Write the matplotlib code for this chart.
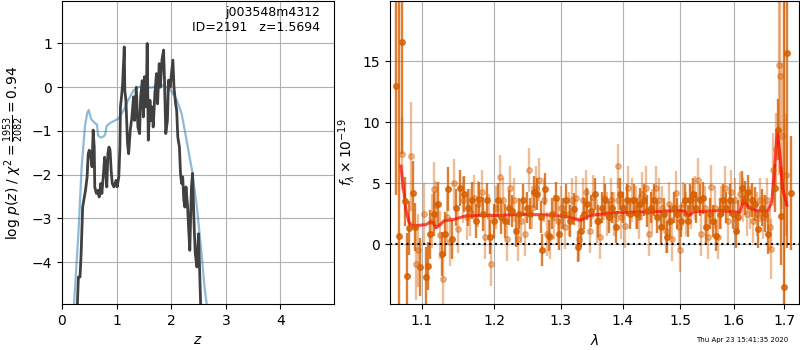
import matplotlib
matplotlib.use('Agg')
import numpy as np
import matplotlib.pyplot as plt
from matplotlib.ticker import NullLocator

# p(z) curve (dark)
z_pz = [0.28, 0.30, 0.33, 0.35, 0.378, 0.40, 0.43, 0.46, 0.48, 0.50, 0.52, 0.55, 0.57, 0.59,
        0.60, 0.63, 0.66, 0.68, 0.71, 0.73, 0.76, 0.78, 0.80, 0.82, 0.84, 0.86, 0.88, 0.90,
        0.92, 0.95, 0.99, 1.01, 1.04, 1.06, 1.07, 1.09, 1.11, 1.14, 1.15, 1.17, 1.20, 1.22,
        1.25, 1.28, 1.31, 1.33, 1.36, 1.39, 1.42, 1.44, 1.47, 1.49, 1.51, 1.54, 1.56, 1.58,
        1.61, 1.63, 1.65, 1.67, 1.70, 1.73, 1.75, 1.78, 1.80, 1.83, 1.86, 1.88, 1.90, 1.93,
        1.95, 1.98, 2.03, 2.05, 2.08, 2.10, 2.12, 2.15, 2.17, 2.19, 2.21, 2.23, 2.25, 2.27,
        2.30, 2.32, 2.34, 2.37, 2.39, 2.42, 2.44, 2.47, 2.50, 2.52, 2.54]
logp = [-5.03, -4.34, -4.34, -3.81, -2.74, -2.58, -2.36, -2.05, -1.52, -1.44, -1.52, -1.82,
        -0.98, -1.37, -2.28, -2.43, -2.36, -2.51, -2.2, -2.43, -1.97, -1.6, -1.9, -2.28,
        -1.52, -1.37, -1.44, -1.9, -2.2, -2.28, -2.13, -2.28, -2.05, -1.37, -0.45, -0.22,
        0.08, 0.92, -0.07, -0.3, -1.29, -1.52, -0.98, -0.68, -0.22, -0.76, 0.0, -0.91,
        -1.06, -0.22, 0.15, -0.68, 0.24, -0.45, 1.0, -1.21, -0.3, -0.76, -0.45, -0.91,
        -0.15, 0.31, -0.38, 0.54, 0.0, 0.62, 0.85, 0.0, -1.06, -0.76, 0.16, 0.0, 0.62,
        0.0, -0.38, -0.53, -1.14, -1.37, -1.98, -2.2, -2.05, -2.58, -2.74, -2.28, -2.74,
        -3.27, -3.73, -2.28, -1.97, -3.2, -3.8, -4.11, -3.35, -4.19, -5.03]

# smooth curve (blue)
z_sm = [0.22, 0.30, 0.36, 0.42, 0.46, 0.49, 0.53, 0.60, 0.64, 0.66, 0.70, 0.76, 0.79,
        0.82, 0.88, 0.94, 1.03, 1.12, 1.21, 1.31, 1.40, 1.49, 1.55, 1.64, 1.73, 1.83,
        1.92, 2.01, 2.10, 2.19, 2.28, 2.38, 2.47, 2.55, 2.61, 2.65]
lp_sm = [-4.97, -3.35, -1.82, -0.9, -0.6, -0.52, -0.72, -0.82, -0.85, -1.1, -1.15,
         -1.13, -1.08, -0.88, -0.82, -0.78, -0.72, -0.55, -0.3, -0.07, 0.0, 0.04, 0.0,
         -0.01, 0.03, 0.05, 0.0, -0.1, -0.29, -0.6, -1.21, -1.9, -2.74, -3.73, -4.58,
         -4.97]

# spectrum, darker points
wave_a = [1.0662, 1.0709, 1.0747, 1.0786, 1.0804, 1.0838, 1.0881, 1.0912, 1.0978, 1.1052,
          1.1079, 1.1110, 1.1164, 1.1222, 1.1267, 1.1312, 1.1357, 1.1403, 1.1463, 1.1517,
          1.1577, 1.1633, 1.1680, 1.1742, 1.1788, 1.1844, 1.1892, 1.1945, 1.1998, 1.2050,
          1.2102, 1.2160, 1.2214, 1.2263, 1.2312, 1.2366, 1.2426, 1.2476, 1.2531, 1.2587,
          1.2637, 1.2687, 1.2712, 1.2758, 1.2809, 1.2866, 1.2918, 1.2974, 1.3031, 1.3088,
          1.3146, 1.3210, 1.3263, 1.3316, 1.3368, 1.3422, 1.3482, 1.3541, 1.3600, 1.3654,
          1.3714, 1.3775, 1.3830, 1.3886, 1.3953, 1.4008, 1.4070, 1.4127, 1.4189, 1.4246,
          1.4303, 1.4365, 1.4423, 1.4481, 1.4539, 1.4597, 1.4655, 1.4714, 1.4767, 1.4827,
          1.4886, 1.4952, 1.5023, 1.5083, 1.5144, 1.5174, 1.5235, 1.5297, 1.5357, 1.5418,
          1.5480, 1.5549, 1.5605, 1.5668, 1.5730, 1.5793, 1.5856, 1.5920, 1.5984, 1.6049,
          1.6087, 1.6151, 1.6216, 1.6281, 1.6346, 1.6412, 1.6477, 1.6543, 1.6609, 1.6669,
          1.6805, 1.6872, 1.6933, 1.6987, 1.7062, 1.7131]
flux_a = [13.0, 0.7, 16.6, 3.5, -2.6, 1.3, 4.2, 1.4, -1.9, -2.7,
          -1.8, 0.8, 2.5, 3.3, -0.8, 0.8, 4.5, 0.4, 3.0, 4.6,
          4.1, 3.0, 3.6, 1.9, 3.7, 2.5, 3.6, 0.6, 1.9, 3.6,
          2.2, 1.9, 3.0, 2.7, 1.1, 2.5, 3.6, 3.0, 2.5, 4.3,
          4.1, 2.2, -0.5, 4.5, 0.7, 2.5, 3.8, 0.8, 2.5, 3.6,
          1.9, 2.9, -0.2, 1.1, 2.5, 3.3, 2.7, 4.1, 1.9, 3.0,
          3.6, 2.2, 3.0, 1.4, 4.1, 3.0, 3.6, 2.5, 3.6, 2.5,
          3.3, 3.6, 2.7, 3.0, 3.6, 2.2, 1.4, 2.5, 0.6, 1.9,
          3.0, 2.5, 1.9, 3.6, 1.9, 3.6, 4.1, 3.0, 3.6, 3.8,
          1.4, 2.5, 1.9, 0.7, 2.5, 3.6, 3.0, 3.6, 2.5, 1.1,
          2.2, 4.6, 3.8, 4.3, 3.6, 3.3, 1.2, 3.0, 2.5, 0.8,
          4.6, 9.4, 2.3, -3.5, 15.7, 4.2]
err_a = [9.0, 25.0, 9.2, 2.0, 3.5, 2.2, 2.6, 2.0, 2.4, 2.5,
         2.0, 2.0, 1.8, 1.8, 1.8, 1.8, 1.8, 1.6, 1.5, 1.5,
         1.5, 1.5, 1.5, 1.4, 1.4, 1.4, 1.4, 1.4, 1.4, 1.4,
         1.4, 1.4, 1.4, 1.3, 1.3, 1.3, 1.3, 1.3, 1.3, 1.3,
         1.3, 1.3, 1.3, 1.3, 1.3, 1.3, 1.3, 1.3, 1.3, 1.3,
         1.3, 1.3, 1.3, 1.3, 1.3, 1.3, 1.3, 1.3, 1.3, 1.3,
         1.3, 1.3, 1.3, 1.3, 1.3, 1.3, 1.3, 1.3, 1.3, 1.3,
         1.3, 1.3, 1.3, 1.3, 1.3, 1.3, 1.3, 1.3, 1.3, 1.3,
         1.3, 1.3, 1.3, 1.3, 1.3, 1.3, 1.3, 1.3, 1.3, 1.3,
         1.3, 1.3, 1.3, 1.3, 1.3, 1.3, 1.3, 1.3, 1.3, 1.4,
         1.4, 1.4, 1.4, 1.4, 1.4, 1.4, 1.5, 1.5, 1.5, 1.6,
         2.0, 2.5, 4.0, 30.0, 16.0, 4.7]

# spectrum, lighter points
wave_b = [1.0747, 1.0860, 1.0925, 1.0956, 1.1025, 1.1132, 1.1160, 1.1191, 1.1245, 1.1289,
          1.1335, 1.1380, 1.1435, 1.1495, 1.1554, 1.1610, 1.1657, 1.1713, 1.1765, 1.1821,
          1.1868, 1.1921, 1.1950, 1.2022, 1.2084, 1.2131, 1.2190, 1.2234, 1.2288, 1.2342,
          1.2396, 1.2451, 1.2506, 1.2561, 1.2617, 1.2662, 1.2732, 1.2784, 1.2835, 1.2892,
          1.2948, 1.3005, 1.3062, 1.3120, 1.3178, 1.3236, 1.3289, 1.3342, 1.3395, 1.3455,
          1.3509, 1.3568, 1.3627, 1.3687, 1.3742, 1.3803, 1.3858, 1.3919, 1.3930, 1.3980,
          1.4036, 1.4098, 1.4155, 1.4218, 1.4275, 1.4337, 1.4394, 1.4452, 1.4510, 1.4568,
          1.4626, 1.4684, 1.4743, 1.4797, 1.4857, 1.4922, 1.4982, 1.5000, 1.5053, 1.5113,
          1.5205, 1.5266, 1.5333, 1.5388, 1.5449, 1.5518, 1.5574, 1.5636, 1.5699, 1.5761,
          1.5825, 1.5888, 1.5952, 1.6016, 1.6119, 1.6184, 1.6248, 1.6314, 1.6379, 1.6444,
          1.6510, 1.6576, 1.6642, 1.6703, 1.6737, 1.6771, 1.6839, 1.6893, 1.6920, 1.6960,
          1.7042]
flux_b = [7.4, 7.2, -1.6, -0.5, 2.5, 1.9, 4.5, 3.2, 0.75, -2.9,
          2.2, 0.2, 5.0, 1.2, 3.6, 2.2, 2.6, 3.8, 3.3, 4.3,
          0.6, 2.3, -1.6, 3.0, 5.5, 3.6, 0.4, 4.6, 3.6, 0.4,
          1.9, 0.8, 6.1, 3.0, 4.6, 5.3, 3.6, 0.8, 0.6, 2.2,
          1.9, 3.0, 1.4, 2.5, 3.6, 3.8, 0.4, 3.6, 4.3, 1.1,
          3.9, 1.9, 0.6, 3.8, 2.5, 3.6, 2.5, 3.6, 6.4, 2.2,
          1.5, 4.6, 3.6, 3.0, 2.2, 4.1, 4.6, 0.8, 2.7, 4.6,
          3.6, 3.0, 1.1, 3.3, 0.4, 4.2, 1.4, -0.5, 3.3, 2.5,
          3.0, 3.8, 5.3, 0.8, 3.0, 0.6, 4.7, 3.0, 0.6, 3.0,
          4.6, 1.9, 4.3, 3.6, 4.1, 3.6, 2.5, 3.0, 1.9, 2.5,
          3.6, 2.2, 3.6, 1.4, -0.4, 6.1, 7.8, 14.7, 13.8, 8.9,
          5.7]
err_b = [3.0, 4.5, 3.0, 3.0, 2.5, 2.2, 2.2, 2.0, 2.0, 2.0,
         2.0, 2.0, 2.0, 1.9, 1.9, 1.9, 1.9, 1.9, 1.9, 1.8,
         1.8, 1.8, 1.8, 1.8, 1.8, 1.8, 1.8, 1.8, 1.8, 1.8,
         1.8, 1.8, 1.8, 1.8, 1.8, 1.8, 1.8, 1.8, 1.8, 1.8,
         1.8, 1.8, 1.8, 1.8, 1.8, 1.8, 1.8, 1.8, 1.8, 1.8,
         1.8, 1.8, 1.8, 1.8, 1.8, 1.8, 1.8, 1.8, 1.8, 1.8,
         1.8, 1.8, 1.8, 1.8, 1.8, 1.8, 1.8, 1.8, 1.8, 1.8,
         1.8, 1.8, 1.8, 1.8, 1.8, 1.8, 1.8, 1.8, 1.8, 1.8,
         1.8, 1.8, 1.8, 1.8, 1.8, 1.8, 1.8, 1.8, 1.8, 1.8,
         1.8, 1.8, 1.8, 1.8, 1.8, 1.8, 1.8, 1.8, 1.8, 1.8,
         1.8, 1.8, 1.8, 1.9, 2.5, 3.0, 3.0, 9.0, 8.0, 6.0,
         5.0]

# best-fit model
wave_m = [1.0730, 1.0769, 1.0795, 1.0834, 1.0873, 1.0978, 1.1057, 1.1110, 1.1150, 1.1191,
          1.1231, 1.1298, 1.1449, 1.1587, 1.1797, 1.2082, 1.2376, 1.2753, 1.2907, 1.3141,
          1.3300, 1.3460, 1.3703, 1.3953, 1.4464, 1.4993, 1.5083, 1.5156, 1.5248, 1.5730,
          1.6113, 1.6190, 1.6287, 1.6444, 1.6662, 1.6744, 1.6805, 1.6852, 1.6906, 1.6967,
          1.7049]
flux_m = [6.4, 4.2, 2.8, 1.8, 1.5, 1.55, 1.6, 1.8, 1.8, 1.35,
          1.5, 1.9, 2.05, 2.3, 2.35, 2.35, 2.45, 2.4, 2.35, 2.2,
          1.95, 2.35, 2.5, 2.6, 2.65, 2.75, 2.7, 2.3, 2.65, 2.75,
          2.6, 3.6, 3.0, 2.75, 2.7, 3.5, 6.5, 9.3, 7.5, 4.5,
          3.2]

color = '#d55e00'

fig = plt.figure(figsize=(8, 3.5), dpi=100)
ax1 = fig.add_axes([0.0775, 0.131, 0.34, 0.866])
ax2 = fig.add_axes([0.4875, 0.131, 0.51125, 0.866])

# left: p(z)
ax1.plot(z_sm, lp_sm, color='tab:blue', alpha=0.5, lw=1.6)
ax1.plot(z_pz, logp, color='0.25', lw=2)
ax1.set_xlim(0, 4.98)
ax1.set_ylim(-4.96, 1.97)
ax1.set_xticks([0, 1, 2, 3, 4])
ax1.set_yticks([-4, -3, -2, -1, 0, 1])
ax1.grid()
ax1.set_xlabel('$z$')
ax1.set_ylabel(r'log $p(z)$ / $\chi^2=\frac{1953}{2082}=0.94$')
ax1.text(0.95, 0.985, 'j003548m4312\nID=2191   z=1.5694', transform=ax1.transAxes,
         ha='right', va='top', fontsize=9)

# right: spectrum
ax2.errorbar(wave_b, flux_b, yerr=err_b, color=color, alpha=0.4, marker='o', ms=4,
             linestyle='None', elinewidth=1.7)
ax2.errorbar(wave_a, flux_a, yerr=err_a, color=color, alpha=0.8, marker='o', ms=4,
             linestyle='None', elinewidth=1.7)
ax2.plot(wave_m, flux_m, color='r', alpha=0.7, lw=2.2)
ax2.axhline(0, color='k', linestyle=':', lw=1.5)
ax2.set_xscale('log')
ax2.set_xlim(1.059, 1.730)
ax2.set_ylim(-4.93, 19.95)
ax2.set_xticks([1.1, 1.2, 1.3, 1.4, 1.5, 1.6, 1.7])
ax2.set_xticklabels(['1.1', '1.2', '1.3', '1.4', '1.5', '1.6', '1.7'])
ax2.xaxis.set_minor_locator(NullLocator())
ax2.set_yticks([0, 5, 10, 15])
ax2.grid()
ax2.set_xlabel(r'$\lambda$')
ax2.set_ylabel(r'$f_\lambda\times10^{-19}$')

fig.text(0.985, 0.029, 'Thu Apr 23 15:41:35 2020', ha='right', va='center', fontsize=5)

fig.savefig('out.png', dpi=100)
